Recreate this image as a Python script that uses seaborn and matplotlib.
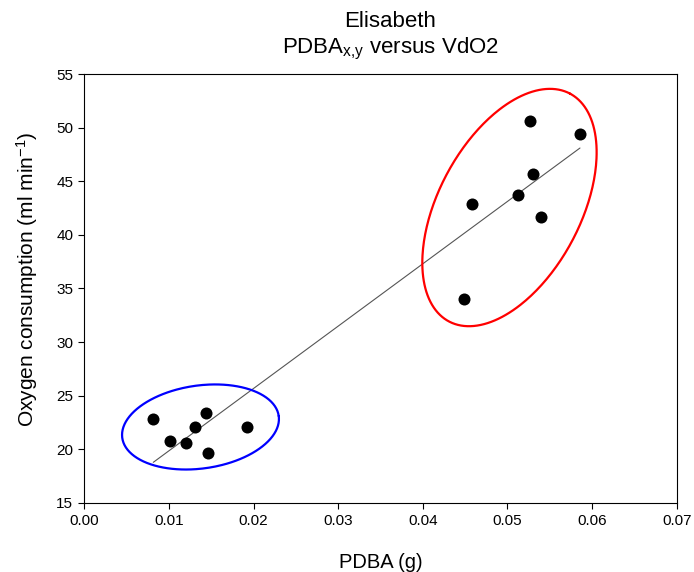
import numpy as np
import pandas as pd
import matplotlib
matplotlib.use('Agg')
import matplotlib.pyplot as plt
import seaborn as sns

# PDBA (g) and oxygen consumption (ml min-1)
pdba_low = [0.00815, 0.01013, 0.01202, 0.01307, 0.01442, 0.01458, 0.01919]
vo2_low = [22.79, 20.76, 20.57, 22.04, 23.40, 19.67, 22.04]
pdba_high = [0.04487, 0.04585, 0.05121, 0.05267, 0.05298, 0.05396, 0.05857]
vo2_high = [33.99, 42.92, 43.70, 50.61, 45.66, 41.70, 49.40]

x_ticks = [0.00, 0.01, 0.02, 0.03, 0.04, 0.05, 0.06, 0.07]
y_ticks = [15, 20, 25, 30, 35, 40, 45, 50, 55]

df = pd.DataFrame({'pdba': pdba_low + pdba_high, 'vo2': vo2_low + vo2_high})

sns.set_style('ticks')
plt.rcParams['font.family'] = ['Liberation Sans', 'DejaVu Sans']
plt.rcParams['mathtext.fontset'] = 'custom'
plt.rcParams['mathtext.rm'] = 'Liberation Sans'
plt.rcParams['mathtext.it'] = 'Liberation Sans:italic'
plt.rcParams['text.color'] = 'black'
plt.rcParams['axes.labelcolor'] = 'black'

fig = plt.figure(figsize=(6.94, 5.72), dpi=100)
ax = fig.add_axes([84.3 / 694, (572 - 502.7) / 572, 592.4 / 694, 428.4 / 572])

sns.scatterplot(data=df, x='pdba', y='vo2', ax=ax, color='black', s=75,
                edgecolor='black', linewidth=0, zorder=3)

# linear regression line over the data range
k, c = np.polyfit(df['pdba'], df['vo2'], 1)
xs = np.array([df['pdba'].min(), df['pdba'].max()])
ax.plot(xs, k * xs + c, color='#555555', lw=0.8, zorder=2)

ax.set_xlim(0, 0.07)
ax.set_ylim(15, 55)
ax.set_xticks(x_ticks)
ax.set_xticklabels([f'{t:.2f}' for t in x_ticks])
ax.set_yticks(y_ticks)
ax.tick_params(direction='out', length=4.5, width=0.8, labelsize=11, colors='black')
for sp in ax.spines.values():
    sp.set_visible(True)
    sp.set_color('black')
    sp.set_linewidth(0.8)

ax.set_xlabel('PDBA (g)', fontsize=14.5)
ax.set_ylabel(r'Oxygen consumption (ml min$^{\mathregular{-1}}$)', fontsize=15)
ax.xaxis.set_label_coords(0.5, -0.117)
ax.yaxis.set_label_coords(-0.074, 0.522)

fig.text(0.562, 1 - 27 / 572, 'Elisabeth', ha='center', va='baseline', fontsize=16)
fig.text(0.562, 1 - 53 / 572, r'PDBA$_{\mathregular{x{,}y}}$ versus VdO2', ha='center',
         va='baseline', fontsize=16)


def ring(cx, cy, a, b, ang, color):
    # ellipse given in pixels (semi-axes a, b, angle in degrees) around a data centre
    bb = ax.get_window_extent()
    sx = bb.width / 0.07
    sy = bb.height / 40
    t = np.linspace(0, 2 * np.pi, 300)
    th = np.deg2rad(ang)
    u, v = a * np.cos(t), b * np.sin(t)
    ex = cx + (u * np.cos(th) - v * np.sin(th)) / sx
    ey = cy + (u * np.sin(th) + v * np.cos(th)) / sy
    ax.plot(ex, ey, color=color, lw=1.6, zorder=4)


ring(0.01373, 22.07, 79, 41.5, 8, '#0000ff')
ring(0.05024, 42.56, 129, 71, 62, '#ff0000')

fig.savefig('out.png', dpi=100)
